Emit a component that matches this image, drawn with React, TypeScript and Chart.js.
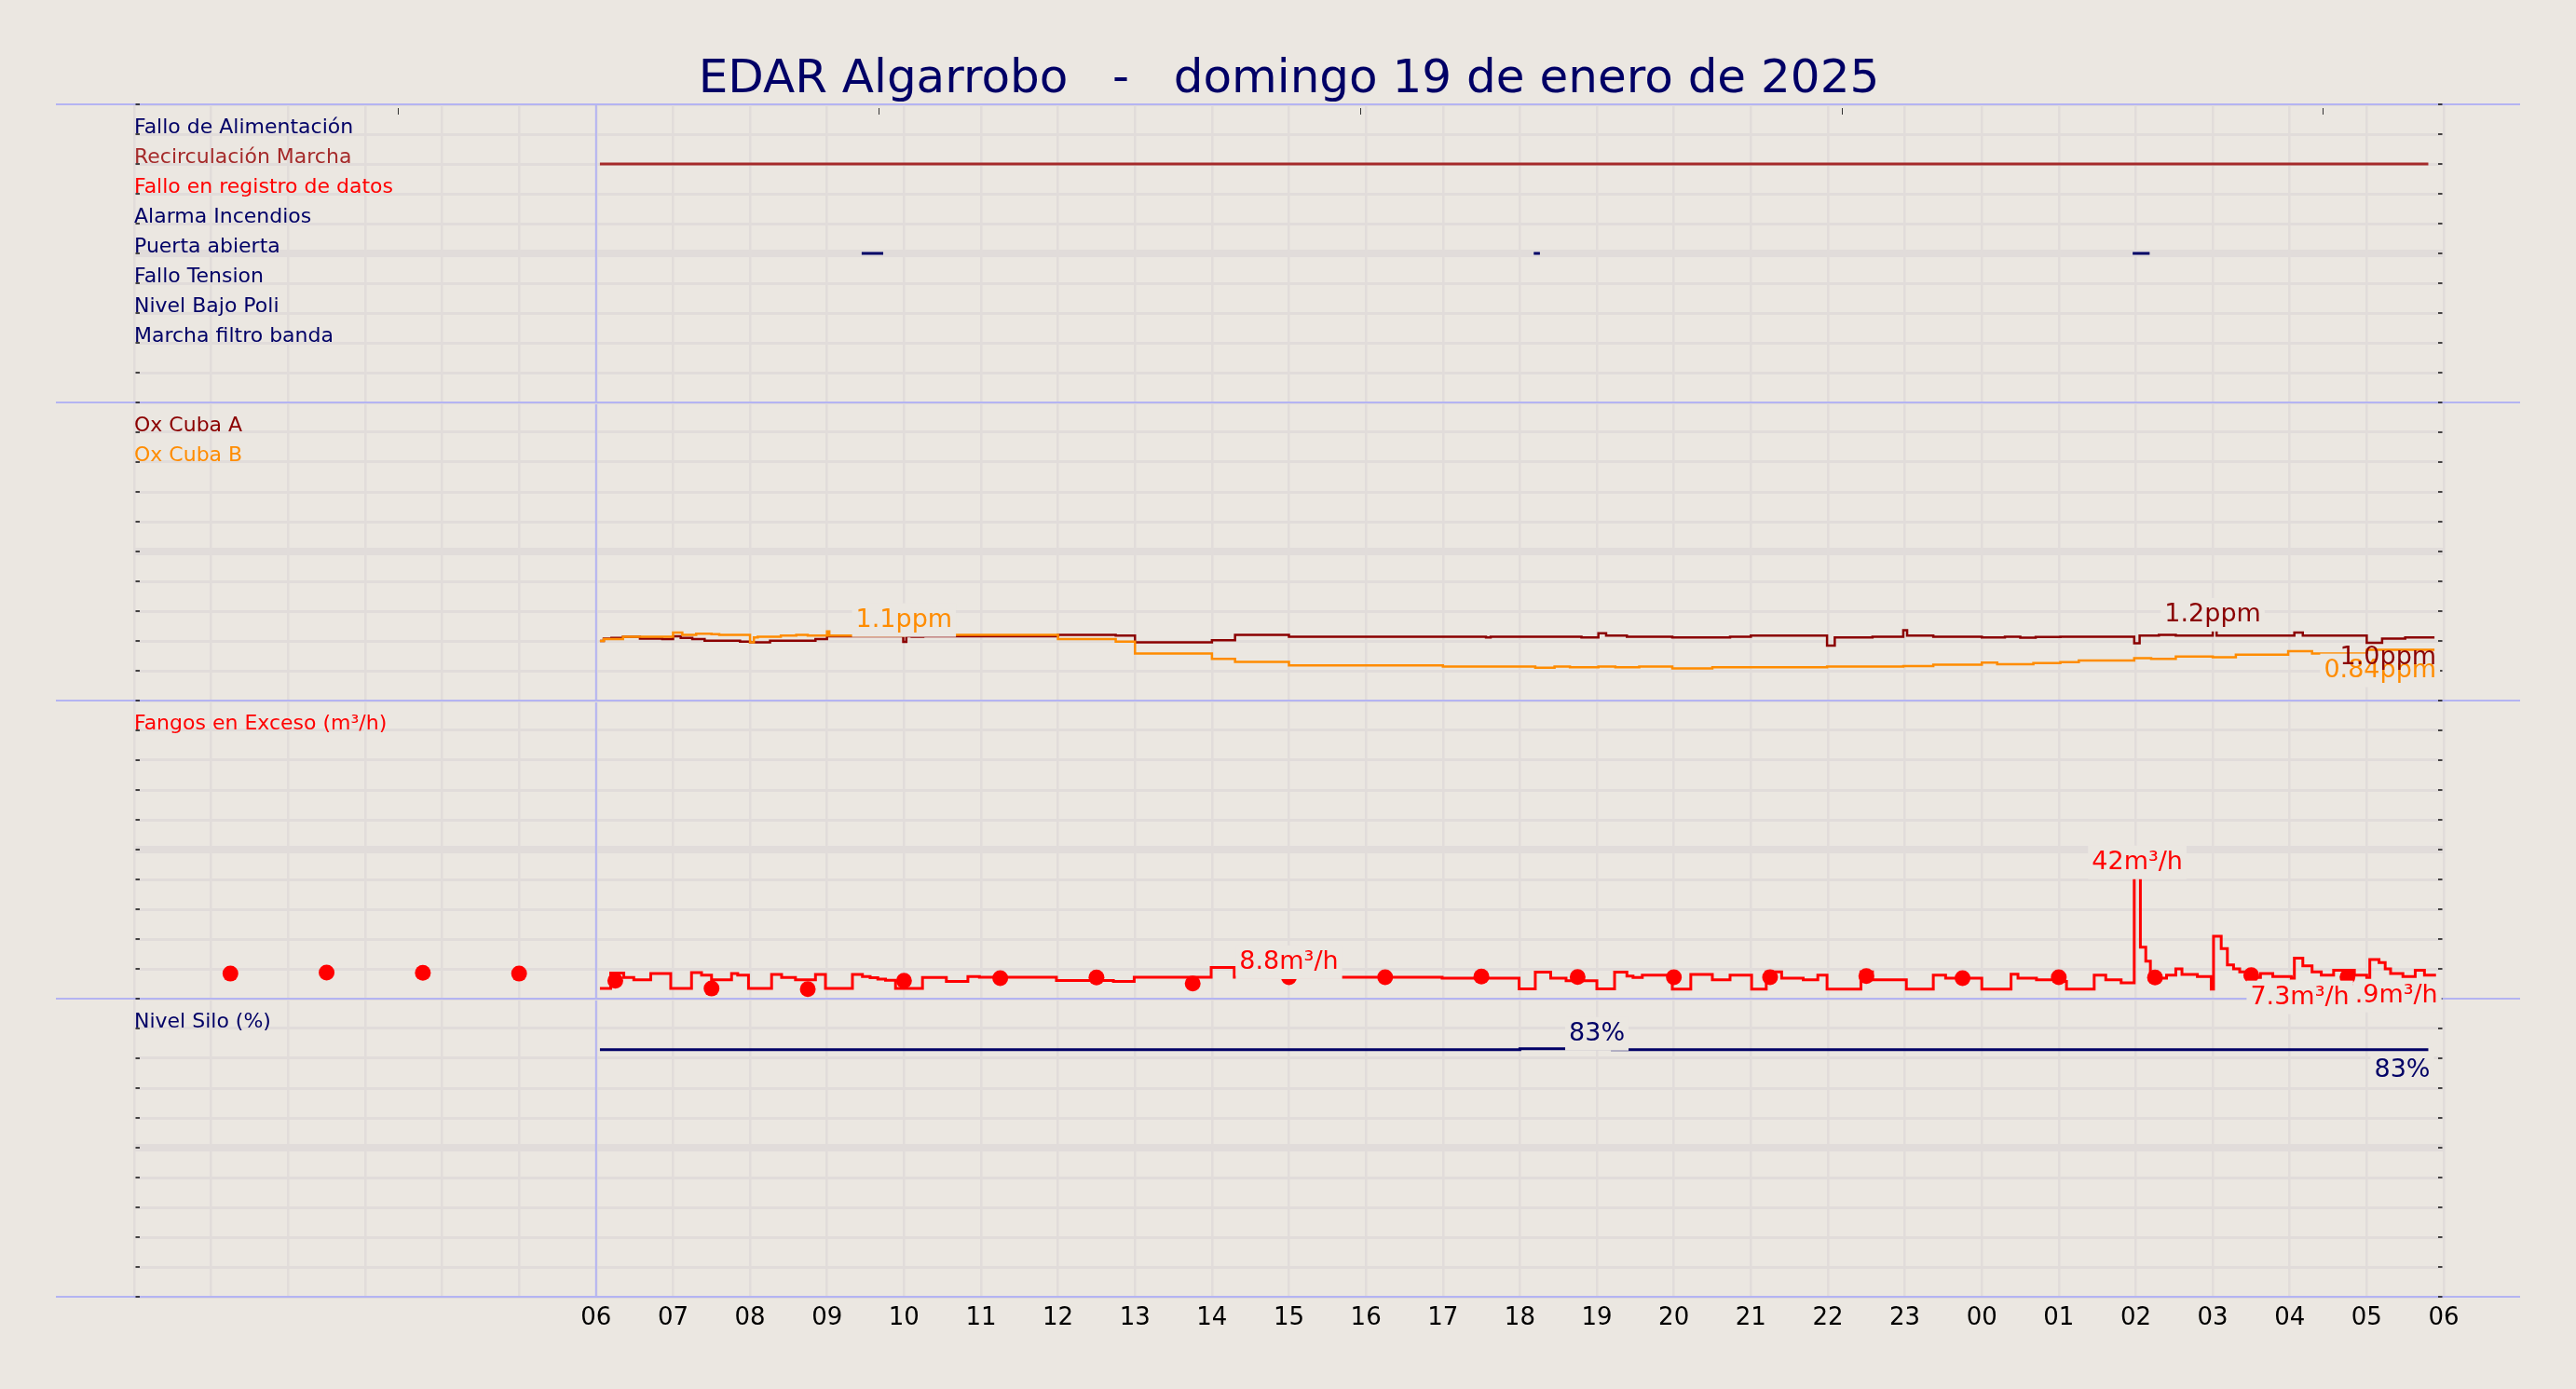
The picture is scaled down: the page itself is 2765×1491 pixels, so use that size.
import React, { useEffect, useRef } from 'react';
import { Chart, registerables } from 'chart.js';

Chart.register(...registerables);

// ---------------- data ----------------
const TITLE = 'EDAR Algarrobo   -   domingo 19 de enero de 2025';

const hourLabels = ['', '', '', '', '', '', '06', '07', '08', '09', '10', '11', '12', '13', '14', '15', '16', '17', '18', '19', '20', '21', '22', '23', '00', '01', '02', '03', '04', '05', '06'];

const topMarkTimes = [3.42, 9.67, 15.93, 22.18, 28.43];

// panel 1 : alarm / status channels
const alarmNames = ['Fallo de Alimentación', 'Recirculación Marcha', 'Fallo en registro de datos', 'Alarma Incendios', 'Puerta abierta', 'Fallo Tension', 'Nivel Bajo Poli', 'Marcha filtro banda'];
const alarmRows = [9, 8, 7, 6, 5, 4, 3, 2];
const alarmIntervals: number[][][] = [
  [],
  [[6.05, 29.8]],
  [],
  [],
  [[9.45, 9.73], [18.18, 18.26], [25.96, 26.18]],
  [],
  [],
  [],
];

// panel 2 : oxygen (ppm)
const oxNames = ['Ox Cuba A', 'Ox Cuba B'];
const oxRows = [4.5, 4.0];
const oxATimes = [6.05, 6.1, 6.2, 6.35, 6.57, 6.86, 7.0, 7.1, 7.25, 7.41, 7.87, 8.0, 8.26, 8.85, 9.0, 9.99, 10.03, 10.1, 10.25, 12.0, 12.75, 13.0, 14.0, 14.3, 15.0, 17.56, 17.62, 18.8, 19.02, 19.12, 19.39, 19.98, 20.73, 21.0, 21.99, 22.09, 22.58, 22.98, 23.03, 23.37, 24.0, 24.3, 24.5, 24.7, 25.02, 25.98, 26.05, 26.3, 26.52, 27.0, 27.05, 28.06, 28.17, 29.0, 29.2, 29.5];
const oxAValues = [1.0, 1.04, 1.05, 1.07, 1.04, 1.03, 1.08, 1.05, 1.03, 1.005, 0.99, 0.975, 1.005, 1.03, 1.08, 0.985, 1.08, 1.07, 1.08, 1.1, 1.09, 0.975, 1.01, 1.1, 1.07, 1.06, 1.07, 1.06, 1.13, 1.09, 1.07, 1.06, 1.07, 1.09, 0.92, 1.06, 1.07, 1.18, 1.09, 1.07, 1.06, 1.07, 1.055, 1.065, 1.07, 0.96, 1.09, 1.1, 1.09, 1.19, 1.09, 1.14, 1.09, 0.97, 1.04, 1.06];
const oxAEnd = 29.88;
const oxBTimes = [6.05, 6.1, 6.35, 7.0, 7.12, 7.3, 7.5, 7.6, 8.0, 8.05, 8.1, 8.4, 8.6, 8.75, 9.0, 9.03, 10.0, 12.0, 12.75, 13.0, 14.0, 14.3, 15.0, 17.0, 18.2, 18.45, 18.65, 19.02, 19.24, 19.55, 19.98, 20.5, 21.99, 22.98, 23.37, 24.0, 24.2, 24.67, 25.02, 25.26, 25.98, 26.2, 26.52, 27.0, 27.3, 27.98, 28.29, 29.0];
const oxBValues = [1.0, 1.03, 1.07, 1.14, 1.1, 1.12, 1.115, 1.1, 0.975, 1.06, 1.07, 1.09, 1.1, 1.09, 1.16, 1.09, 1.1, 1.03, 0.99, 0.79, 0.7, 0.65, 0.59, 0.57, 0.55, 0.57, 0.56, 0.57, 0.56, 0.57, 0.54, 0.56, 0.57, 0.58, 0.6, 0.635, 0.61, 0.63, 0.645, 0.67, 0.71, 0.7, 0.74, 0.725, 0.77, 0.83, 0.79, 0.85];
const oxBEnd = 29.88;

// panel 3 : excess sludge (m3/h)
const fangosName = 'Fangos en Exceso (m³/h)';
const fangosTimes = [6.05, 6.19, 6.36, 6.49, 6.71, 6.97, 7.24, 7.37, 7.5, 7.76, 7.84, 7.98, 8.28, 8.41, 8.59, 8.85, 8.98, 9.33, 9.46, 9.56, 9.66, 9.76, 9.89, 10.24, 10.55, 10.83, 10.98, 11.98, 12.72, 12.99, 13.99, 14.29, 16.99, 17.99, 18.2, 18.4, 18.6, 19.0, 19.23, 19.39, 19.47, 19.59, 19.98, 20.22, 20.5, 20.73, 21.01, 21.2, 21.4, 21.68, 21.87, 21.99, 22.43, 22.58, 23.02, 23.37, 23.53, 24.0, 24.38, 24.47, 24.71, 24.94, 25.1, 25.46, 25.61, 25.81, 25.98, 26.06, 26.13, 26.19, 26.4, 26.52, 26.6, 26.8, 26.98, 27.01, 27.11, 27.19, 27.27, 27.35, 27.43, 27.62, 27.78, 28.02, 28.06, 28.17, 28.29, 28.41, 28.57, 28.84, 29.0, 29.04, 29.16, 29.24, 29.31, 29.47, 29.63, 29.75];
const fangosValues = [3.4, 8.6, 7.1, 6.35, 8.4, 3.4, 8.75, 7.9, 6.35, 8.4, 7.9, 3.4, 8.1, 7.1, 6.35, 8.1, 3.4, 8.1, 7.4, 7.0, 6.6, 6.2, 3.4, 7.1, 5.8, 7.4, 7.2, 6.1, 5.8, 7.2, 10.5, 7.2, 6.9, 3.3, 8.9, 6.9, 6.0, 3.3, 8.9, 7.6, 7.1, 7.9, 3.2, 8.1, 6.35, 7.9, 3.2, 9.0, 6.9, 6.35, 7.9, 3.2, 9.0, 6.35, 3.2, 7.9, 6.9, 3.2, 8.2, 6.9, 6.35, 5.8, 3.2, 7.9, 6.35, 5.3, 40.7, 17.3, 12.6, 6.9, 7.9, 10.0, 8.1, 7.4, 3.2, 20.9, 16.8, 11.3, 10.0, 9.0, 7.1, 8.4, 7.4, 6.9, 13.6, 11.0, 9.0, 7.9, 9.5, 7.9, 6.9, 13.1, 12.1, 10.0, 8.4, 7.4, 9.5, 7.9];
const fangosEnd = 29.9;
const dotTimes = [1.25, 2.5, 3.75, 5, 6.25, 7.5, 8.75, 10, 11.25, 12.5, 13.75, 15, 16.25, 17.5, 18.75, 20, 21.25, 22.5, 23.75, 25, 26.25, 27.5, 28.75];
const dotValues = [8.4, 8.75, 8.7, 8.4, 6.0, 3.4, 3.2, 6.0, 6.9, 7.1, 5.1, 7.2, 7.2, 7.4, 7.3, 7.2, 7.2, 7.6, 6.9, 7.2, 7.1, 7.9, 7.3];

// panel 4 : silo level (%)
const siloName = 'Nivel Silo (%)';
const siloTimes = [6.05, 18.0, 19.2];
const siloValues = [82.9, 83.2, 82.9];
const siloEnd = 29.8;

// ---------------- styles ----------------
const FONT = 'DejaVu Sans';
const BG = '#EBE7E1';
const GRID = '#E1DCDA';
const LAVENDER = '#B4B4F2';
const NAVY = '#000066';
const BROWN = '#A52A2A';
const RED = '#FF0000';
const DARKRED = '#8B0000';
const ORANGE = '#FF8C00';
const alarmColors = [NAVY, BROWN, RED, NAVY, NAVY, NAVY, NAVY, NAVY];

const W = 2765;
const PAD_L = 144;
const PAD_R = 142;

Chart.defaults.font.family = FONT;

type Pt = { x: number; y: number | null };

function stepPoints(times: number[], values: number[], end: number): Pt[] {
  const pts: Pt[] = times.map((t, i) => ({ x: t, y: values[i] }));
  pts.push({ x: end, y: values[values.length - 1] });
  return pts;
}

function intervalPoints(intervals: number[][], row: number): Pt[] {
  const pts: Pt[] = [];
  intervals.forEach(([a, b]) => {
    pts.push({ x: a, y: row }, { x: b, y: row }, { x: b, y: null });
  });
  return pts;
}

function line(ctx: CanvasRenderingContext2D, x1: number, y1: number, x2: number, y2: number) {
  ctx.beginPath();
  ctx.moveTo(x1, y1);
  ctx.lineTo(x2, y2);
  ctx.stroke();
}

const decoPlugin = {
  id: 'deco',
  beforeDatasetsDraw(chart: any, _args: any, opts: any) {
    const { ctx, chartArea: ca, scales } = chart;
    const xs = scales.x;
    const ys = scales.y;
    ctx.save();
    ctx.strokeStyle = LAVENDER;
    ctx.lineWidth = 2;
    const x6 = xs.getPixelForValue(6);
    line(ctx, x6, ca.top, x6, ca.bottom);
    line(ctx, 60, ca.top, 2705, ca.top);
    line(ctx, 60, ca.bottom, 2705, ca.bottom);
    ctx.strokeStyle = '#111';
    ctx.lineWidth = 1.5;
    for (const t of ys.ticks) {
      const py = ys.getPixelForValue(t.value);
      line(ctx, ca.left + 1.5, py, ca.left + 6, py);
      line(ctx, ca.right - 6, py, ca.right - 1.5, py);
    }
    if (opts && opts.topMarks) {
      ctx.strokeStyle = '#333';
      ctx.lineWidth = 1;
      for (const t of opts.topMarks) {
        const px = Math.round(xs.getPixelForValue(t)) + 0.5;
        line(ctx, px, ca.top + 4, px, ca.top + 11);
      }
    }
    ctx.restore();
  },
};

function drawLabel(chart: any, l: any) {
  const ctx = chart.ctx;
  const px = chart.scales.x.getPixelForValue(l.t);
  const py = chart.scales.y.getPixelForValue(l.v);
  ctx.save();
  ctx.font = `27px "${FONT}"`;
  const w = ctx.measureText(l.text).width;
  let x0: number;
  let base: number;
  if (l.pos === 'above') {
    x0 = px - w / 2;
    base = py - 9;
  } else {
    x0 = px + 2 - w;
    base = py + 29;
  }
  if (l.box) {
    ctx.fillStyle = BG;
    ctx.fillRect(x0 - 4, base - 25, w + 8, 36);
  }
  ctx.fillStyle = l.color;
  ctx.textAlign = 'left';
  ctx.textBaseline = 'alphabetic';
  ctx.fillText(l.text, x0, base);
  ctx.restore();
}

const labelPlugin = {
  id: 'valueLabels',
  afterDatasetDraw(chart: any, args: any, opts: any) {
    const items = (opts && opts.items) || [];
    for (const l of items) if (l.ds === args.index) drawLabel(chart, l);
  },
  afterDatasetsDraw(chart: any, _args: any, opts: any) {
    const items = (opts && opts.items) || [];
    for (const l of items) if (l.ds === -1) drawLabel(chart, l);
  },
};

function xScale(showLabels: boolean) {
  return {
    type: 'linear',
    min: 0,
    max: 30,
    ticks: {
      display: showLabels,
      stepSize: 1,
      autoSkip: false,
      maxRotation: 0,
      minRotation: 0,
      padding: 8,
      color: '#000',
      font: { size: 26, family: FONT },
      callback: (v: number) => hourLabels[Math.round(v)] ?? '',
    },
    grid: { color: GRID, lineWidth: 2.5, drawTicks: false },
    border: { display: false },
  };
}

function yScale(max: number, step: number, mid: number, rows: number[], names: string[], colors: string[]) {
  const find = (v: number) => rows.findIndex((r) => Math.abs(r - v) < 1e-6);
  return {
    type: 'linear',
    min: 0,
    max,
    ticks: {
      stepSize: step,
      autoSkip: false,
      mirror: true,
      padding: 0,
      labelOffset: -7,
      font: { size: 22, family: FONT },
      color: (c: any) => {
        const i = c.tick ? find(c.tick.value) : -1;
        return i >= 0 ? colors[i] : '#000';
      },
      callback: (v: number) => {
        const i = find(v);
        return i >= 0 ? names[i] : '';
      },
    },
    grid: {
      color: GRID,
      lineWidth: (c: any) => (c.tick && Math.abs(c.tick.value - mid) < 1e-6 ? 8 : 3),
      drawTicks: false,
    },
    border: { display: false },
  };
}

function baseOptions(padTop: number, padBottom: number, showX: boolean, y: any, labels: any[], extra: any = {}) {
  return {
    responsive: false,
    animation: false,
    events: [],
    layout: { padding: { top: padTop, bottom: padBottom, left: PAD_L, right: PAD_R } },
    scales: { x: xScale(showX), y },
    plugins: {
      legend: { display: false },
      tooltip: { enabled: false },
      title: { display: false },
      valueLabels: { items: labels },
      deco: {},
      ...extra,
    },
  };
}

function lineDs(data: Pt[], color: string, width: number, stepped: boolean, order = 1) {
  return {
    data,
    borderColor: color,
    backgroundColor: color,
    borderWidth: width,
    pointRadius: 0,
    stepped,
    fill: false,
    tension: 0,
    spanGaps: false,
    order,
  };
}

const PANELS = [
  { top: 0, height: 452, z: 4 },
  { top: 412, height: 360, z: 3 },
  { top: 732, height: 360, z: 2 },
  { top: 1052, height: 439, z: 1 },
];

export default function App() {
  const refs = [useRef<HTMLCanvasElement>(null), useRef<HTMLCanvasElement>(null), useRef<HTMLCanvasElement>(null), useRef<HTMLCanvasElement>(null)];

  useEffect(() => {
    const charts: Chart[] = [];

    // panel 1
    const p1Opts: any = baseOptions(0, 20, false, yScale(10, 1, 5, alarmRows, alarmNames, alarmColors), [], {
      title: {
        display: true,
        text: TITLE,
        color: NAVY,
        font: { size: 50, family: FONT, weight: 'normal', lineHeight: 1.0 },
        padding: { top: 61.5, bottom: 0.5 },
      },
      deco: { topMarks: topMarkTimes },
    });
    charts.push(
      new Chart(refs[0].current as HTMLCanvasElement, {
        type: 'line',
        data: {
          datasets: alarmIntervals.map((iv, i) => lineDs(intervalPoints(iv, alarmRows[i]), alarmColors[i], 3, false)),
        },
        options: p1Opts,
        plugins: [decoPlugin, labelPlugin],
      } as any)
    );

    // panel 2
    const p2Labels = [
      { ds: 0, t: 27.0, v: 1.19, text: '1.2ppm', color: DARKRED, pos: 'above', box: true },
      { ds: 1, t: 10.0, v: 1.1, text: '1.1ppm', color: ORANGE, pos: 'above', box: true },
      { ds: 1, t: oxBEnd, v: oxBValues[oxBValues.length - 1], text: '0.84ppm', color: ORANGE, pos: 'below', box: true },
      { ds: -1, t: oxAEnd, v: oxAValues[oxAValues.length - 1], text: '1.0ppm', color: DARKRED, pos: 'below', box: false },
    ];
    charts.push(
      new Chart(refs[1].current as HTMLCanvasElement, {
        type: 'line',
        data: {
          datasets: [
            lineDs(stepPoints(oxATimes, oxAValues, oxAEnd), DARKRED, 2.5, true, 2),
            lineDs(stepPoints(oxBTimes, oxBValues, oxBEnd), ORANGE, 2.5, true, 1),
          ],
        },
        options: baseOptions(20, 20, false, yScale(5, 0.5, 2.5, oxRows, oxNames, [DARKRED, ORANGE]), p2Labels) as any,
        plugins: [decoPlugin, labelPlugin],
      } as any)
    );

    // panel 3
    const p3Labels = [
      { ds: 0, t: 26.02, v: 40.7, text: '42m³/h', color: RED, pos: 'above', box: true },
      { ds: 0, t: fangosEnd, v: fangosValues[fangosValues.length - 1], text: '7.9m³/h', color: RED, pos: 'below', box: true },
      { ds: 1, t: 15.0, v: 7.2, text: '8.8m³/h', color: RED, pos: 'above', box: true },
      { ds: 1, t: dotTimes[dotTimes.length - 1], v: dotValues[dotValues.length - 1], text: '7.3m³/h', color: RED, pos: 'below', box: true },
    ];
    charts.push(
      new Chart(refs[2].current as HTMLCanvasElement, {
        type: 'line',
        data: {
          datasets: [
            lineDs(stepPoints(fangosTimes, fangosValues, fangosEnd), RED, 3, true, 2),
            {
              data: dotTimes.map((t, i) => ({ x: t, y: dotValues[i] })),
              showLine: false,
              pointRadius: 8.5,
              pointBorderWidth: 0,
              pointBackgroundColor: RED,
              borderColor: RED,
              backgroundColor: RED,
              order: 1,
            },
          ],
        },
        options: baseOptions(20, 20, false, yScale(100, 10, 50, [90], [fangosName], [RED]), p3Labels) as any,
        plugins: [decoPlugin, labelPlugin],
      } as any)
    );

    // panel 4
    const p4Labels = [
      { ds: 0, t: 19.0, v: 83.2, text: '83%', color: NAVY, pos: 'above', box: true },
      { ds: 0, t: siloEnd, v: siloValues[siloValues.length - 1], text: '83%', color: NAVY, pos: 'below', box: true },
    ];
    charts.push(
      new Chart(refs[3].current as HTMLCanvasElement, {
        type: 'line',
        data: {
          datasets: [lineDs(stepPoints(siloTimes, siloValues, siloEnd), NAVY, 3, true, 1)],
        },
        options: baseOptions(20, 51.8, true, yScale(100, 10, 50, [90], [siloName], [NAVY]), p4Labels) as any,
        plugins: [decoPlugin, labelPlugin],
      } as any)
    );

    return () => {
      charts.forEach((c) => c.destroy());
    };
  }, []);

  return (
    <div style={{ position: 'fixed', left: 0, top: 0, width: W, height: 1491, background: BG, overflow: 'hidden' }}>
      {PANELS.map((p, i) => (
        <canvas
          key={i}
          ref={refs[i]}
          width={W}
          height={p.height}
          style={{ position: 'absolute', left: 0, top: p.top, width: W, height: p.height, zIndex: p.z }}
        />
      ))}
    </div>
  );
}
